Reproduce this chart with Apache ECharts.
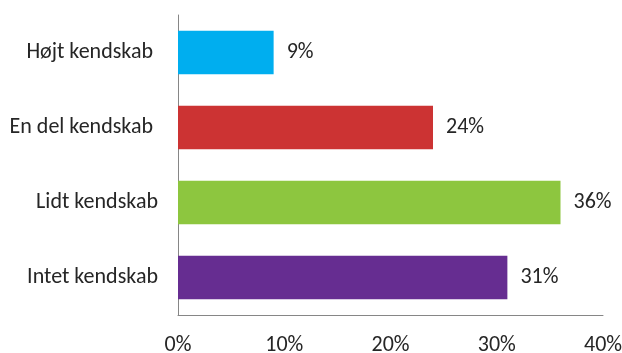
<!DOCTYPE html>
<html>
<head>
<meta charset="utf-8">
<script src="https://cdn.jsdelivr.net/npm/echarts@6/dist/echarts.min.js"></script>
<style>
  html, body { margin: 0; padding: 0; background: #ffffff; }
  #chart { width: 622px; height: 353px; }
</style>
</head>
<body>
<div id="chart"></div>
<script>
// Knowledge level categories, listed top to bottom
const categories = ['Højt kendskab ', 'En del kendskab ', 'Lidt kendskab', 'Intet kendskab'];
// Share of respondents (%)
const shares = [9, 24, 36, 31];
// Bar colour per category
const barColors = ['#00AEEF', '#CC3333', '#8DC63F', '#662D91'];
// Value axis ticks
const tickValues = [0, 10, 20, 30, 40];

const font = 'Calibri, Carlito, "Liberation Sans", Arial, sans-serif';
const textColor = '#262626';

const chart = echarts.init(document.getElementById('chart'), null, { renderer: 'canvas' });

chart.setOption({
  animation: false,
  backgroundColor: '#ffffff',
  grid: { left: 178, right: 19, top: 15, bottom: 38, containLabel: false, outerBoundsMode: 'none' },
  xAxis: {
    type: 'value',
    min: tickValues[0],
    max: tickValues[tickValues.length - 1],
    interval: tickValues[1] - tickValues[0],
    axisLine: { show: true, lineStyle: { color: '#868686', width: 1 } },
    axisTick: { show: false },
    splitLine: { show: false },
    axisLabel: {
      margin: 19,
      color: textColor,
      fontSize: 22,
      fontFamily: font,
      formatter: v => v + '%'
    }
  },
  yAxis: {
    type: 'category',
    inverse: true,
    data: categories,
    axisLine: { show: true, lineStyle: { color: '#868686', width: 1 } },
    axisTick: { show: false },
    axisLabel: {
      margin: 20,
      color: textColor,
      fontSize: 22,
      fontFamily: font
    }
  },
  series: [{
    type: 'bar',
    data: shares.map((v, i) => ({ value: v, itemStyle: { color: barColors[i] } })),
    barCategoryGap: '42%',
    label: {
      show: true,
      position: 'right',
      distance: 13,
      color: textColor,
      fontSize: 22,
      fontFamily: font,
      formatter: p => p.value + '%'
    }
  }]
});
</script>
</body>
</html>
